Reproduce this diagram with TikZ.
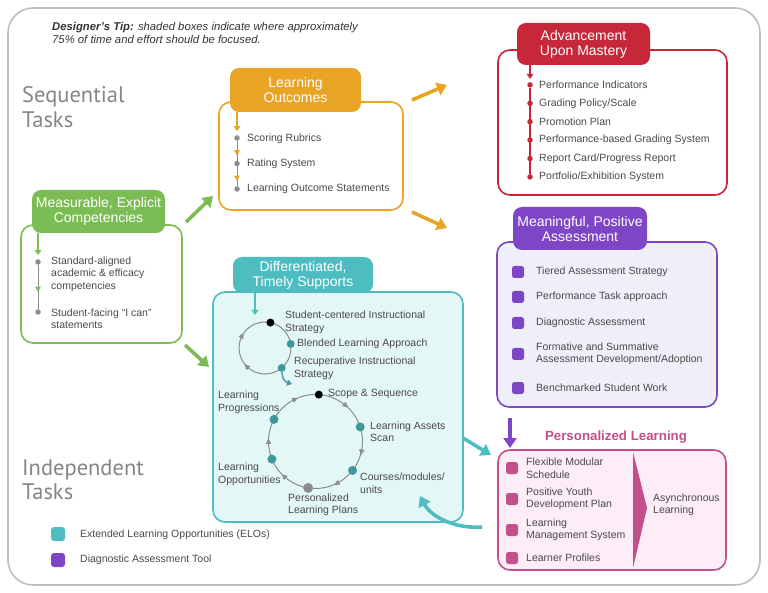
\documentclass[tikz,border=0pt]{standalone}
\usepackage{fontspec}
\setmainfont{Liberation Sans}
\newfontfamily\tasksfont{PT Sans}
\usetikzlibrary{arrows.meta,decorations.markings}

\definecolor{mecGreen}{HTML}{7CBC55}
\definecolor{loOrange}{HTML}{E9A426}
\definecolor{advRed}{HTML}{C6283A}
\definecolor{mpaPurple}{HTML}{7E45C6}
\definecolor{mpaFill}{HTML}{EFEFF9}
\definecolor{dtsTeal}{HTML}{4DBDC2}
\definecolor{dtsFill}{HTML}{E3F7F6}
\definecolor{plPink}{HTML}{C2508C}
\definecolor{plFill}{HTML}{FCEDF7}
\definecolor{txtGray}{HTML}{4A4A4A}
\definecolor{dotGray}{HTML}{8C8C8C}
\definecolor{frameGray}{HTML}{BEBEBE}
\definecolor{tasksGray}{HTML}{858585}

\newcommand\cyctip[1]{\fill[#1] (3pt,0pt) -- (-2.5pt,2.8pt) -- (-2.5pt,-2.8pt) -- cycle;}

\tikzset{
  head/.style={rounded corners=9pt, fill=#1, text=white, align=center,
    font=\fontsize{14}{15}\selectfont, inner sep=0pt},
  body/.style={draw=#1, line width=1.6pt, rounded corners=12pt, inner sep=0pt},
  item/.style={anchor=west, align=left, inner sep=0pt, text=txtGray,
    font=\fontsize{10.5}{12.5}\selectfont},
  dot/.style={circle, fill=#1, inner sep=0pt, minimum size=5.5pt},
  bullet/.style={rounded corners=2.5pt, fill=#1, inner sep=0pt, minimum size=12pt},
  flow/.style={line width=3.6pt, draw=#1, -{Triangle[length=10pt,width=13pt]}},
  stem/.style={line width=1.6pt, draw=#1, -{Triangle[length=5pt,width=6.5pt]}},
  tasks/.style={anchor=base west, align=left, inner sep=0pt, text=tasksGray,
    font=\tasksfont\fontsize{22.5}{24.5}\selectfont},
}

\begin{document}
\begin{tikzpicture}[x=1pt,y=-1pt]
  \useasboundingbox (0,0) rectangle (768,593);
  \draw[frameGray, line width=1.6pt, rounded corners=25pt] (8,8) rectangle (760,585);

  % tip and section titles
  \node[anchor=north west, align=left, inner sep=0pt, text=black!80,
    font=\itshape\fontsize{11.3}{13.5}\selectfont] (tip) at (52,22)
    {\textbf{Designer's Tip:} shaded boxes indicate where approximately\\75\% of time and effort should be focused.};
  \node[tasks] (seqTasks) at (22,127.5) {Sequential\\Tasks};
  \node[tasks] (indTasks) at (22,499.5) {Independent\\Tasks};

  % boxes
  \node[body=mecGreen, fill=white, minimum width=161pt, minimum height=118pt] (mecBody) at (101.5,284) {};
  \node[body=loOrange, fill=white, minimum width=184pt, minimum height=108pt] (loBody) at (311,156) {};
  \node[body=advRed, fill=white, minimum width=229pt, minimum height=145pt] (advBody) at (612.5,122.5) {};
  \node[body=mpaPurple, fill=mpaFill, minimum width=220pt, minimum height=165pt] (mpaBody) at (607,324.5) {};
  \node[body=dtsTeal, fill=dtsFill, minimum width=250pt, minimum height=230pt] (dtsBody) at (338,407) {};
  \node[body=plPink, fill=plFill, minimum width=228pt, minimum height=120pt] (plBody) at (612,510) {};

  \node[head=mecGreen, minimum width=133pt, minimum height=43pt] (mecHead) at (98.5,211.5) {Measurable, Explicit\\Competencies};
  \node[head=loOrange, minimum width=131pt, minimum height=44pt] (loHead) at (295.5,90) {Learning\\Outcomes};
  \node[head=advRed, minimum width=133pt, minimum height=42pt] (advHead) at (583.5,44) {Advancement\\Upon Mastery};
  \node[head=mpaPurple, minimum width=134pt, minimum height=43pt] (mpaHead) at (580,228.5) {Meaningful, Positive\\Assessment};
  \node[head=dtsTeal, minimum width=140pt, minimum height=36pt] (dtsHead) at (303,275) {Differentiated,\\Timely Supports};
  \node[font=\bfseries\fontsize{13.3}{15}\selectfont, text=plPink, inner sep=0pt] (plTitle) at (616,437) {Personalized Learning};

  % competencies
  \node[dot=dotGray] (mec1) at (38,262) {};
  \node[dot=dotGray] (mec2) at (38,312) {};
  \draw[stem=mecGreen, shorten >=4pt] (mecHead.south -| mec1) -- (mec1);
  \draw[dotGray, line width=1pt, postaction={decorate, decoration={markings,
    mark=at position .55 with {\cyctip{mecGreen}}}}] (mec1) -- (mec2);
  \node[item] at (51,274) {Standard-aligned\\academic \& efficacy\\competencies};
  \node[item] at (51,318.5) {Student-facing ``I can''\\statements};

  % learning outcomes
  \node[dot=dotGray] (lo1) at (237,138) {};
  \node[dot=dotGray] (lo2) at (237,163.5) {};
  \node[dot=dotGray] (lo3) at (237,189) {};
  \draw[stem=loOrange, shorten >=4pt] (loHead.south -| lo1) -- (lo1);
  \foreach \a/\b in {lo1/lo2, lo2/lo3}
    \draw[dotGray, line width=1pt, postaction={decorate, decoration={markings,
      mark=at position .6 with {\cyctip{loOrange}}}}] (\a) -- (\b);
  \node[item] at (247,139) {Scoring Rubrics};
  \node[item] at (247,164) {Rating System};
  \node[item] at (247,189) {Learning Outcome Statements};

  % advancement upon mastery
  \foreach \t [count=\i] in {Performance Indicators, Grading Policy/Scale, Promotion Plan,
      Performance-based Grading System, Report Card/Progress Report, Portfolio/Exhibition System} {
    \node[dot=advRed] (adv\i) at (530,66.5+18.4*\i) {};
    \node[item] at (539,66.5+18.4*\i) {\t};
  }
  \draw[stem=advRed, shorten >=3pt] (advHead.south -| adv1) -- (adv1);
  \draw[advRed, line width=1.3pt] (adv1) -- (adv6);

  % assessment
  \foreach \t/\y [count=\i] in {Tiered Assessment Strategy/272, Performance Task approach/297,
      Diagnostic Assessment/323, {Formative and Summative\\Assessment Development/Adoption}/354,
      Benchmarked Student Work/388} {
    \node[bullet=mpaPurple] (mpa\i) at (518,\y) {};
    \node[item] at (536,\y) {\t};
  }

  % differentiated supports: small cycle
  \coordinate (sc) at (265,348);
  \coordinate (scIn) at (255,315);
  \coordinate (scOut) at (292,384);
  \draw[dotGray, line width=1pt, postaction={decorate, decoration={markings,
    mark=at position .375 with {\cyctip{dotGray}}, mark=at position .578 with {\cyctip{dotGray}}}}]
    (sc) circle (26);
  \path (sc) ++(-78:26) node[dot=black, minimum size=8pt] (sc1) {};
  \path (sc) ++(-9:26) node[dot=dtsTeal!80!black, minimum size=8pt] (sc2) {};
  \path (sc) ++(50:26) node[dot=dtsTeal!80!black, minimum size=8pt] (sc3) {};
  \draw[stem=dtsTeal] (dtsHead.south -| scIn) -- (scIn);
  \draw[dtsTeal!80!black, line width=1.3pt, -{Triangle[length=5pt,width=6pt]}]
    (sc3) .. controls (282,378) and (285,382) .. (scOut);
  \node[item] at (285,322.5) {Student-centered Instructional\\Strategy};
  \node[item] at (297,344) {Blended Learning Approach};
  \node[item] at (294,368.5) {Recuperative Instructional\\Strategy};

  % differentiated supports: big cycle
  \coordinate (bc) at (315.5,441.5);
  \draw[dotGray, line width=1pt, postaction={decorate, decoration={markings,
    mark=at position .036 with {\cyctip{dotGray}}, mark=at position .175 with {\cyctip{dotGray}},
    mark=at position .367 with {\cyctip{dotGray}}, mark=at position .5 with {\cyctip{dotGray}},
    mark=at position .678 with {\cyctip{dotGray}}, mark=at position .861 with {\cyctip{dotGray}}}}]
    (bc) circle (47);
  \path (bc) ++(-86:47) node[dot=black, minimum size=8pt] (bc1) {};
  \path (bc) ++(-18:47) node[dot=dtsTeal!80!black, minimum size=9pt] (bc2) {};
  \path (bc) ++(38:47) node[dot=dtsTeal!80!black, minimum size=9pt] (bc3) {};
  \path (bc) ++(99:47) node[dot=dotGray, minimum size=10pt] (bc4) {};
  \path (bc) ++(158:47) node[dot=dtsTeal!80!black, minimum size=9pt] (bc5) {};
  \path (bc) ++(-152:47) node[dot=dtsTeal!80!black, minimum size=9pt] (bc6) {};
  \node[item] at (328,394) {Scope \& Sequence};
  \node[item] at (370,431.5) {Learning Assets\\Scan};
  \node[item] at (360,483) {Courses/modules/\\units};
  \node[item] at (288,505) {Personalized\\Learning Plans};
  \node[item] at (218,474.5) {Learning\\Opportunities};
  \node[item] at (218,402.5) {Learning\\Progressions};

  % personalized learning
  \foreach \t/\y [count=\i] in {{Flexible Modular\\Schedule}/468, {Positive Youth\\Development Plan}/499,
      {Learning\\Management System}/530, Learner Profiles/558} {
    \node[bullet=plPink] (pl\i) at (512,\y) {};
    \node[item] at (526,\y) {\t};
  }
  \fill[plPink] (633,452) -- (647,508) -- (633,568) -- cycle;
  \node[item] (async) at (653,505) {Asynchronous\\Learning};

  % flow between boxes
  \coordinate (mecLoS) at (186,222);   \coordinate (mecLoE) at (213,196);
  \coordinate (mecDtsS) at (185,345);  \coordinate (mecDtsE) at (209,367);
  \coordinate (loAdvS) at (412,100);   \coordinate (loAdvE) at (447,85);
  \coordinate (loMpaS) at (412,212);   \coordinate (loMpaE) at (447,228);
  \coordinate (dtsPlS) at (463,438);   \coordinate (dtsPlE) at (491,455);
  \coordinate (plDtsS) at (482,527);   \coordinate (plDtsE) at (420,496);
  \coordinate (mpaPlS) at (510,418);   \coordinate (mpaPlE) at (510,448);
  \draw[flow=mecGreen] (mecLoS) -- (mecLoE);
  \draw[flow=mecGreen] (mecDtsS) -- (mecDtsE);
  \draw[flow=loOrange] (loAdvS) -- (loAdvE);
  \draw[flow=loOrange] (loMpaS) -- (loMpaE);
  \draw[flow=dtsTeal] (dtsPlS) -- (dtsPlE);
  \draw[flow=dtsTeal] (plDtsS) .. controls (452,529) and (430,515) .. (plDtsE);
  \draw[flow=mpaPurple] (mpaPlS) -- (mpaPlE);

  % legend
  \node[bullet=dtsTeal, minimum size=14pt, rounded corners=3pt] (keyElo) at (58,534) {};
  \node[item] at (80,535) {Extended Learning Opportunities (ELOs)};
  \node[bullet=mpaPurple, minimum size=14pt, rounded corners=3pt] (keyDat) at (58,560) {};
  \node[item] at (80,560) {Diagnostic Assessment Tool};
\end{tikzpicture}
\end{document}
